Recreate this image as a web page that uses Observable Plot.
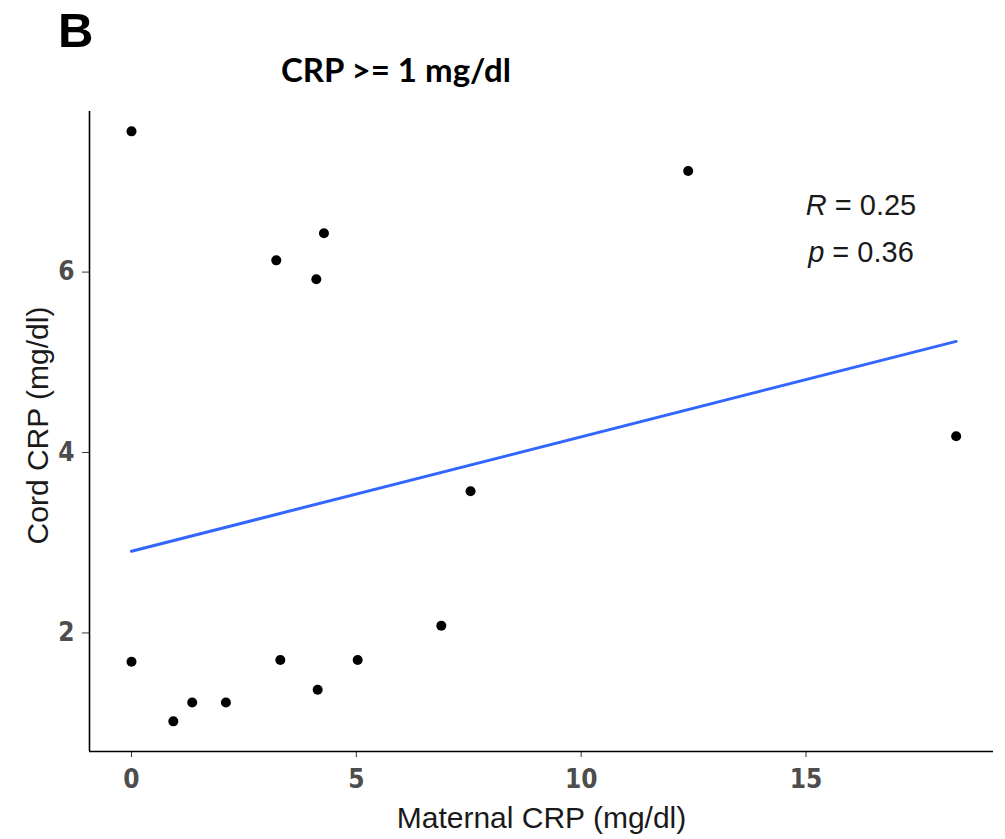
<!DOCTYPE html>
<html>
<head>
<meta charset="utf-8">
<script src="https://cdn.jsdelivr.net/npm/d3@7"></script>
<script src="https://cdn.jsdelivr.net/npm/@observablehq/plot@0.6"></script>
<style>
  html, body { margin: 0; padding: 0; background: #fff; }
  #wrap { position: relative; width: 1005px; height: 839px; overflow: hidden; font-family: "Liberation Sans", Arial, sans-serif; }
  #panel { position: absolute; left: 58px; top: 6px; font: bold 49px/1 "Liberation Sans", Arial, sans-serif; color: #000; }
  #title { position: absolute; left: 281px; top: 53px; font: bold 33px/1 Lato, "Open Sans", sans-serif; color: #000; white-space: nowrap; }
  .stat { position: absolute; left: 761px; width: 200px; text-align: center; font: 29px/1 "Liberation Sans", Arial, sans-serif; color: #1a1a1a; white-space: nowrap; }
  #chart { position: absolute; left: 0; top: 0; }
</style>
</head>
<body>
<div id="wrap">
  <div id="chart"></div>
  <div id="panel">B</div>
  <div id="title"></div>
  <div id="stats"></div>
</div>
<script>
// ---- data ----
const panelLabel = "B";
const titleText = "CRP >= 1 mg/dl";
const xLabel = "Maternal CRP (mg/dl)";
const yLabel = "Cord CRP (mg/dl)";
const maternalCRP = [0, 12.38, 3.22, 4.28, 4.11, 18.34, 7.54, 6.89, 0, 3.31, 5.03, 4.14, 1.35, 2.10, 0.93];
const cordCRP     = [7.56, 7.12, 6.13, 6.43, 5.92, 4.18, 3.57, 2.08, 1.68, 1.70, 1.70, 1.37, 1.23, 1.23, 1.02];
const xTicks = [0, 5, 10, 15];
const yTicks = [2, 4, 6];
const xDomain = [-0.934, 19.17];
const yDomain = [0.686, 7.78];
const statNames = ["R", "p"];
const statValues = ["0.25", "0.36"];

const data = maternalCRP.map((m, i) => ({maternal: m, cord: cordCRP[i]}));

document.getElementById("panel").textContent = panelLabel;
document.getElementById("title").textContent = titleText;
const stats = document.getElementById("stats");
statNames.forEach((n, i) => {
  const d = document.createElement("div");
  d.className = "stat";
  d.style.top = (191 + i * 47) + "px";
  const it = document.createElement("i");
  it.textContent = n;
  d.appendChild(it);
  d.appendChild(document.createTextNode(" = " + statValues[i]));
  stats.appendChild(d);
});

const tickFont = {fontFamily: "'Liberation Sans Narrow', 'DejaVu Sans Condensed', sans-serif", fontWeight: "bold", fontSize: 26, fill: "#4d4d4d", stroke: "#333333", tickFormat: d => String(d)};

const chart = Plot.plot({
  width: 1005,
  height: 839,
  marginTop: 111,
  marginBottom: 88,
  marginLeft: 89,
  marginRight: 12,
  style: {background: "transparent", fontFamily: "'Liberation Sans', Arial, sans-serif"},
  x: {domain: xDomain},
  y: {domain: yDomain},
  marks: [
    Plot.axisX(xTicks, {...tickFont, tickSize: 6, tickPadding: 12, label: null}),
    Plot.axisY(yTicks, {...tickFont, tickSize: 7, tickPadding: 8, label: null}),
    Plot.ruleY([yDomain[0]], {stroke: "#000", strokeWidth: 1.6}),
    Plot.ruleX([xDomain[0]], {stroke: "#000", strokeWidth: 1.6}),
    Plot.text([xLabel], {frameAnchor: "bottom", lineAnchor: "bottom", dy: 76, fontSize: 30, fill: "#1a1a1a", text: d => d}),
    Plot.text([yLabel], {frameAnchor: "left", rotate: -90, textAnchor: "middle", lineAnchor: "middle", dx: -51, dy: -6, fontSize: 30, fill: "#1a1a1a", text: d => d}),
    Plot.linearRegressionY(data, {x: "maternal", y: "cord", ci: 0, stroke: "#3366FF", strokeWidth: 3}),
    Plot.dot(data, {x: "maternal", y: "cord", r: 5, fill: "#000", stroke: "none"})
  ]
});
document.getElementById("chart").appendChild(chart);
</script>
</body>
</html>
